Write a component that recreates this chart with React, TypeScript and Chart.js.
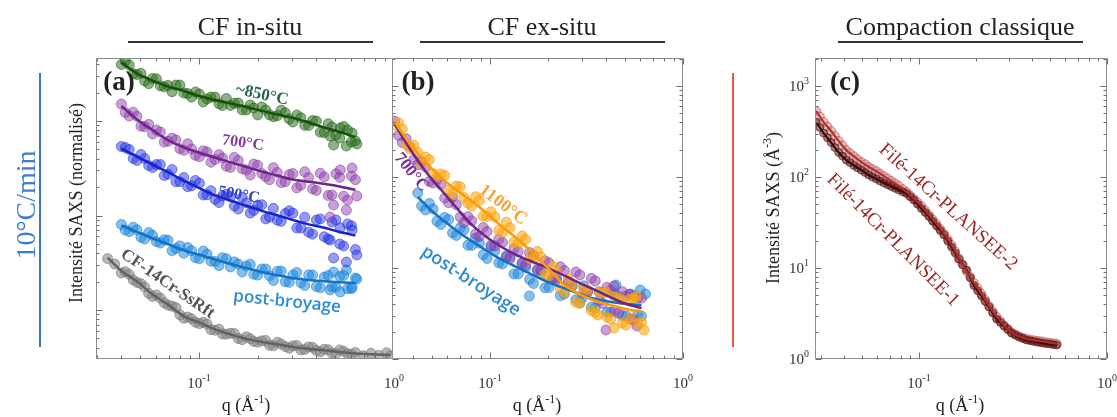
import React, { useEffect, useRef } from "react";
import { Chart, registerables } from "chart.js";
Chart.register(...registerables);

const SERIF = "'Liberation Serif', 'DejaVu Serif', serif";
const SANS = "'Open Sans', 'Noto Sans', sans-serif";

// ---------------- Panel (a) : CF in-situ ----------------
const qA = [0.0400, 0.0439, 0.0481, 0.0527, 0.0578, 0.0634, 0.0695, 0.0762, 0.0836, 0.0916, 0.1005, 0.110, 0.121, 0.132, 0.145, 0.159, 0.175, 0.191, 0.210, 0.230, 0.252, 0.277, 0.303, 0.333, 0.365, 0.400, 0.439, 0.481, 0.527, 0.578, 0.634];
const qAMid = [0.0419, 0.0460, 0.0504, 0.0552, 0.0605, 0.0664, 0.0728, 0.0798, 0.0875, 0.0959, 0.1052, 0.1152, 0.1267, 0.1382, 0.1518, 0.1665, 0.1832, 0.2000, 0.2199, 0.2408, 0.2639, 0.2900, 0.3173, 0.3487, 0.3822, 0.4188, 0.4597, 0.5037, 0.5518, 0.6052];
const qAFit = [0.0400, 0.0481, 0.0578, 0.0695, 0.0836, 0.1005, 0.121, 0.145, 0.175, 0.210, 0.252, 0.303, 0.365, 0.439, 0.527, 0.634];
const qATail = [0.470, 0.490, 0.530, 0.570, 0.610, 0.645];

const green850 = [3960, 3910, 3100, 2650, 2820, 2350, 2380, 2400, 1980, 1790, 1930, 1710, 1790, 1460, 1460, 1550, 1308, 1370, 1410, 1160, 1140, 1220, 976, 1080, 896, 1000, 756, 863, 661, 803, 615];
const green850Mid = [4290, 3160, 3200, 2480, 2800, 2300, 2040, 2400, 1950, 2030, 1590, 1790, 1520, 1730, 1540, 1310, 1480, 1160, 1310, 1110, 1300, 1050, 1160, 900, 1010, 760, 935, 711, 874, 600];
const green850Tail = [694, 557, 843, 544, 747, 571];
const green850Fit = [4160, 3180, 2680, 2320, 2080, 1840, 1668, 1530, 1410, 1280, 1170, 1080, 965, 853, 765, 677];

const purple700 = [1510, 1130, 1120, 870, 729, 765, 610, 630, 490, 505, 419, 469, 392, 406, 323, 382, 303, 350, 278, 239, 285, 228, 278, 209, 252, 184, 256, 165, 253, 146, 239];
const purple700Mid = [1230, 1240, 883, 921, 803, 598, 659, 509, 575, 433, 483, 366, 440, 332, 412, 312, 268, 340, 258, 321, 223, 271, 196, 290, 191, 280, 163, 277, 160, 262];
const purple700Tail = [96.2, 129, 303, 114, 318, 161];
const purple700Fit = [1440, 1040, 803, 626, 527, 462, 411, 365, 326, 292, 265, 240, 228, 216, 203, 187];

const blue500 = [537, 499, 382, 401, 322, 346, 273, 228, 252, 206, 220, 166, 148, 161, 158, 117, 136, 113, 130, 96.2, 89.2, 105, 106, 73.7, 66.4, 89.6, 59.5, 85.3, 49.9, 81.3, 43.6];
const blue500Mid = [524, 401, 442, 338, 346, 265, 307, 228, 202, 235, 165, 183, 137, 168, 126, 156, 106, 128, 92.1, 119, 86.7, 112, 73.7, 95.8, 63.5, 92.0, 56.5, 89.6, 47.5, 77.9];
const blue500Tail = [55.0, 35.5, 73.7, 32.2, 70.2, 38.2];
const blue500Fit = [511, 421, 346, 287, 234, 195, 163, 144, 127, 112, 100.5, 89.6, 80.6, 74.1, 66.8, 61.5];

const postA = [80.5, 67.5, 70.5, 56.4, 61.9, 51.1, 54.7, 44.8, 39.8, 42.4, 34.8, 39.0, 32.6, 35.8, 28.6, 30.6, 29.2, 23.9, 27.2, 23.0, 25.7, 19.9, 23.5, 19.4, 23.5, 17.7, 22.3, 17.6, 22.8, 16.8, 21.8];
const postAMid = [70.2, 75.2, 58.7, 65.9, 52.9, 55.5, 42.3, 47.7, 45.8, 35.7, 42.1, 32.8, 29.5, 34.8, 32.3, 25.3, 30.5, 23.4, 27.2, 20.5, 25.8, 19.6, 25.0, 18.2, 23.4, 17.2, 23.2, 17.5, 23.2, 16.8];
const postATail = [16.3, 25.2, 15.5, 26.5, 17.5, 21.3];
const postAFit = [78.5, 67.2, 57.4, 49.7, 42.8, 38.4, 34.2, 30.7, 27.8, 25.2, 23.3, 21.8, 20.8, 20.2, 19.7, 19.3];

const qGrey = [0.034, 0.037, 0.0400, 0.0439, 0.0481, 0.0527, 0.0578, 0.0634, 0.0695, 0.0762, 0.0836, 0.0916, 0.1005, 0.110, 0.121, 0.132, 0.145, 0.159, 0.175, 0.191, 0.210, 0.230, 0.252, 0.277, 0.303, 0.333, 0.365, 0.400, 0.439, 0.481, 0.527, 0.578, 0.634, 0.695, 0.762, 0.836, 0.916, 0.960];
const greyRef = [35.0, 30.6, 24.7, 23.8, 19.6, 17.5, 13.9, 13.3, 11.2, 10.6, 8.17, 8.08, 7.18, 7.11, 6.10, 5.57, 5.66, 5.00, 5.20, 4.64, 4.72, 4.24, 4.56, 4.10, 4.17, 3.78, 4.07, 3.73, 3.84, 3.49, 3.78, 3.44, 3.55, 3.27, 3.49, 3.31, 3.53, 3.26];
const greyRefMid = [25.4, 20.8, 19.0, 15.0, 14.4, 11.9, 11.0, 8.89, 8.43, 7.43, 7.40, 6.19, 6.25, 5.55, 5.65, 4.85, 4.97, 4.56, 4.76, 4.18, 4.37, 3.94, 4.21, 3.83, 4.03, 3.60, 3.80, 3.46, 3.66, 3.41];
const qGreyFit = [0.034, 0.040, 0.0481, 0.0578, 0.0695, 0.0836, 0.1005, 0.121, 0.145, 0.175, 0.210, 0.252, 0.303, 0.365, 0.439, 0.527, 0.634, 0.762, 0.960];
const greyFit = [35.8, 25.9, 20.1, 14.6, 11.4, 8.59, 7.36, 6.24, 5.52, 4.95, 4.60, 4.33, 4.07, 3.88, 3.74, 3.60, 3.46, 3.41, 3.34];

// ---------------- Panel (b) : CF ex-situ ----------------
const qB = [0.0320, 0.0351, 0.0385, 0.0422, 0.0463, 0.0507, 0.0556, 0.0610, 0.0669, 0.0733, 0.0804, 0.0881, 0.0966, 0.106, 0.116, 0.127, 0.140, 0.153, 0.168, 0.184, 0.202, 0.221, 0.243, 0.266, 0.292, 0.320, 0.351, 0.385, 0.422, 0.463, 0.507, 0.556, 0.610];
const qBMid = [0.0335, 0.0368, 0.0403, 0.0442, 0.0485, 0.0531, 0.0582, 0.0639, 0.0701, 0.0768, 0.0842, 0.0922, 0.1012, 0.1110, 0.1215, 0.1330, 0.1466, 0.1602, 0.1759, 0.1927, 0.2115, 0.2314, 0.2544, 0.2785, 0.3058, 0.3351, 0.3675, 0.4031, 0.4419, 0.4848, 0.5309, 0.5822];
const qBFit = [0.0320, 0.0385, 0.0463, 0.0556, 0.0669, 0.0804, 0.0966, 0.116, 0.140, 0.168, 0.202, 0.243, 0.292, 0.351, 0.422, 0.507, 0.610];

const orange1100 = [373, 336, 203, 186, 166, 109, 108, 71.9, 79.7, 59.5, 48.0, 55.2, 36.8, 36.3, 24.3, 27.6, 18.6, 20.6, 12.5, 13.2, 8.17, 9.27, 5.31, 6.50, 4.07, 5.73, 3.23, 5.31, 2.75, 4.68, 2.36, 4.62, 2.55];
const orange1100Mid = [397, 228, 224, 142, 155, 99.2, 104, 65.0, 78.2, 51.4, 60.7, 37.2, 41.5, 25.9, 32.0, 19.2, 22.5, 12.7, 15.2, 8.59, 10.5, 5.88, 7.67, 4.21, 5.99, 3.42, 5.47, 2.90, 4.80, 2.48, 4.59, 2.47];
const qOrangeTail = [0.362, 0.399, 0.439, 0.483, 0.531, 0.577, 0.628];
const orange1100Tail = [3.05, 5.45, 2.19, 4.45, 2.82, 4.92, 2.08];
const orange1100Fit = [402, 231, 146, 99.9, 71.9, 54.5, 39.7, 28.2, 20.6, 14.3, 9.75, 6.50, 5.12, 4.37, 3.92, 3.54, 3.28];

const purpleB700 = [412, 239, 214, 136, 129, 85.9, 82.8, 52.2, 49.7, 31.6, 33.1, 22.2, 25.2, 17.5, 19.1, 12.6, 15.1, 10.8, 13.9, 9.56, 11.4, 7.38, 9.37, 6.34, 8.38, 5.38, 7.20, 4.08, 5.67, 3.19, 4.92, 2.68, 4.68];
const purpleB700Mid = [287, 263, 156, 148, 89.3, 93.3, 58.6, 60.0, 36.3, 36.7, 23.6, 27.9, 17.8, 20.7, 13.3, 16.3, 11.2, 14.8, 9.42, 12.0, 7.70, 10.3, 6.79, 9.04, 5.35, 7.71, 4.37, 6.12, 3.34, 5.50, 2.75, 4.68];
const qPurpleBTail = [0.399, 0.439, 0.531, 0.577];
const purpleB700Tail = [2.08, 6.34, 5.18, 2.30];
const purpleB700Fit = [383, 203, 116, 72.8, 46.1, 29.9, 21.6, 16.8, 13.6, 11.6, 9.85, 8.25, 6.84, 5.73, 4.75, 4.02, 3.63];

const qPostB = [0.0422, 0.0463, 0.0507, 0.0556, 0.0610, 0.0669, 0.0733, 0.0804, 0.0881, 0.0966, 0.106, 0.116, 0.127, 0.140, 0.153, 0.168, 0.184, 0.202, 0.221, 0.243, 0.266, 0.292, 0.320, 0.351, 0.385, 0.422, 0.463, 0.507, 0.556, 0.610];
const postB = [66.7, 43.4, 44.5, 30.1, 34.1, 22.8, 26.2, 17.7, 18.8, 12.7, 15.4, 11.1, 13.2, 8.59, 10.1, 6.75, 8.82, 6.10, 7.67, 5.18, 6.34, 4.18, 5.59, 3.63, 5.38, 3.28, 4.92, 2.97, 4.98, 2.97];
const qPostBMid = [0.0442, 0.0485, 0.0531, 0.0582, 0.0639, 0.0701, 0.0768, 0.0842, 0.0922, 0.1012, 0.1110, 0.1215, 0.1330, 0.1466, 0.1602, 0.1759, 0.1927, 0.2115, 0.2314, 0.2544, 0.2785, 0.3058, 0.3351, 0.3675, 0.4031, 0.4419, 0.4848, 0.5309, 0.5822];
const postBMid = [48.0, 51.1, 32.7, 35.9, 24.3, 27.7, 17.8, 21.2, 14.0, 17.1, 11.4, 13.6, 8.59, 11.4, 7.48, 9.69, 6.07, 7.76, 4.95, 7.11, 4.48, 6.38, 3.73, 5.48, 3.26, 5.25, 3.01, 5.15, 3.07];
const qPostBExtra = [0.16, 0.30, 0.45, 0.60, 0.64];
const postBExtra = [4.92, 4.68, 6.50, 5.73, 5.18];
const qPostBFit = [0.0422, 0.0507, 0.0610, 0.0733, 0.0881, 0.106, 0.127, 0.153, 0.184, 0.221, 0.266, 0.320, 0.385, 0.463, 0.556, 0.610];
const postBFit = [60.3, 41.3, 30.1, 22.5, 17.5, 13.6, 11.1, 9.16, 7.57, 6.42, 5.59, 4.80, 4.39, 4.12, 3.97, 3.92];

// ---------------- Panel (c) : Compaction classique ----------------
const qC = [0.0284, 0.0311, 0.0341, 0.0374, 0.0410, 0.0450, 0.0494, 0.0541, 0.0593, 0.0651, 0.0713, 0.0782, 0.0858, 0.0940, 0.103, 0.113, 0.124, 0.136, 0.149, 0.163, 0.179, 0.196, 0.215, 0.236, 0.259, 0.284, 0.311, 0.341, 0.374, 0.410, 0.450, 0.494, 0.541];
const qCMid = [0.0297, 0.0326, 0.0357, 0.0392, 0.0429, 0.0471, 0.0517, 0.0566, 0.0621, 0.0682, 0.0747, 0.0819, 0.0898, 0.0984, 0.1079, 0.1183, 0.1298, 0.1424, 0.1560, 0.1707, 0.1874, 0.2052, 0.2251, 0.2471, 0.2712, 0.2974, 0.3256, 0.3571, 0.3916, 0.4293, 0.4712, 0.5173];
const plansee2 = [531, 402, 320, 249, 198, 169, 146, 129, 116, 102, 90.4, 79.7, 68.4, 57.3, 48.0, 38.2, 30.5, 23.7, 17.9, 12.8, 9.27, 6.84, 5.18, 3.82, 2.90, 2.33, 1.95, 1.77, 1.66, 1.60, 1.56, 1.51, 1.47];
const plansee2Mid = [462, 359, 282, 222, 183, 157, 138, 122, 109, 96.3, 84.9, 73.7, 62.6, 52.5, 42.8, 34.1, 26.9, 20.6, 15.2, 10.9, 7.97, 5.95, 4.45, 3.32, 2.60, 2.13, 1.86, 1.71, 1.63, 1.58, 1.53, 1.49];
const plansee1 = [402, 304, 239, 186, 154, 134, 119, 105, 95.1, 85.9, 78.7, 71.9, 65.9, 55.9, 45.1, 36.8, 29.0, 23.1, 17.0, 12.5, 9.51, 6.42, 4.92, 3.73, 2.75, 2.30, 1.93, 1.745, 1.617, 1.557, 1.499, 1.462, 1.425];
const plansee1Mid = [350, 270, 211, 170, 144, 126, 112, 99.9, 90.4, 82.2, 75.1, 68.8, 60.7, 50.1, 40.8, 32.7, 25.9, 19.8, 14.6, 10.9, 7.82, 5.62, 4.29, 3.21, 2.52, 2.11, 1.84, 1.68, 1.59, 1.53, 1.48, 1.44];

// tick labels (decades)
const xTickLabels = [0.1, 1];
const yTickLabelsC = [1, 10, 100, 1000];

// ---------------- helpers ----------------
const pts = (qs: number[], vs: number[]) => qs.map((q, i) => ({ x: q, y: vs[i] }));
const merge = (...sets: any[][]) => ([] as any[]).concat(...sets).sort((a, b) => a.x - b.x);

const scatterDs = (data: any[], fill: string, stroke: string, order: number, r = 5) => ({
  data, showLine: false, pointRadius: r, pointHoverRadius: r,
  pointBackgroundColor: fill, pointBorderColor: stroke, pointBorderWidth: 1, order,
});
const lineDs = (data: any[], color: string, width: number, order: number) => ({
  data, showLine: true, pointRadius: 0, pointHoverRadius: 0, borderColor: color,
  borderWidth: width, cubicInterpolationMode: "monotone", fill: false, order,
});

type Ann = { text: string; x: number; y: number; rot: number; color: string; font: string };
type Spec = {
  left: number; width: number;
  padding: { left: number; right: number; top: number; bottom: number };
  xMin: number; xMax: number; yMin: number; yMax: number;
  xLabels: number[]; yLabels: number[];
  sides: { top: boolean; right: boolean; bottom: boolean; left: boolean };
  yTitle?: { parts: [string, boolean][]; cx: number; cy: number };
  xTitleCx: number;
  anns: Ann[];
  datasets: any[];
};

function expText(v: number) {
  const e = Math.round(Math.log10(v));
  return e < 0 ? "-" + Math.abs(e) : String(e);
}

function drawPow(ctx: CanvasRenderingContext2D, x: number, y: number, v: number, size: number, align: string) {
  const es = Math.round(size * 0.68);
  ctx.font = `${size}px ${SERIF}`;
  const w1 = ctx.measureText("10").width;
  ctx.font = `${es}px ${SERIF}`;
  const ex = expText(v);
  const w2 = ctx.measureText(ex).width;
  const total = w1 + w2;
  const x0 = align === "center" ? x - total / 2 : align === "right" ? x - total : x;
  ctx.textAlign = "left";
  ctx.textBaseline = "alphabetic";
  ctx.font = `${size}px ${SERIF}`;
  ctx.fillText("10", x0, y);
  ctx.font = `${es}px ${SERIF}`;
  ctx.fillText(ex, x0 + w1, y - size * 0.45);
}

function drawRich(ctx: CanvasRenderingContext2D, parts: [string, boolean][], x: number, y: number, size: number) {
  const sup = Math.round(size * 0.68);
  let total = 0;
  const ws = parts.map(([t, s]) => {
    ctx.font = `${s ? sup : size}px ${SERIF}`;
    const w = ctx.measureText(t).width;
    total += w;
    return w;
  });
  let cx = x - total / 2;
  ctx.textAlign = "left";
  ctx.textBaseline = "alphabetic";
  parts.forEach(([t, s], i) => {
    ctx.font = `${s ? sup : size}px ${SERIF}`;
    ctx.fillText(t, cx, s ? y - size * 0.42 : y);
    cx += ws[i];
  });
}

function logTicks(min: number, max: number) {
  const out: { v: number; major: boolean }[] = [];
  for (let d = Math.floor(Math.log10(min)); d <= Math.ceil(Math.log10(max)); d++) {
    for (let k = 1; k <= 9; k++) {
      const v = k * Math.pow(10, d);
      if (v >= min * 0.999 && v <= max * 1.001) out.push({ v, major: k === 1 });
    }
  }
  return out;
}

function makePlugin(spec: Spec) {
  return {
    id: "frame",
    afterDatasetsDraw(chart: any) {
      const ctx: CanvasRenderingContext2D = chart.ctx;
      const ca = chart.chartArea;
      const xs = chart.scales.x;
      const ys = chart.scales.y;
      const L = Math.round(ca.left) + 0.5, R = Math.round(ca.right) - 0.5;
      const T = Math.round(ca.top) + 0.5, B = Math.round(ca.bottom) - 0.5;
      ctx.save();
      ctx.strokeStyle = "#8d8d8d";
      ctx.lineWidth = 1;
      ctx.beginPath();
      ctx.moveTo(L, T); ctx.lineTo(R, T);
      if (spec.sides.right) { ctx.lineTo(R, B); } else { ctx.moveTo(R, B); }
      ctx.lineTo(L, B); ctx.lineTo(L, T);
      ctx.stroke();
      ctx.strokeStyle = "#6e6e6e";
      ctx.beginPath();
      logTicks(spec.xMin, spec.xMax).forEach((t) => {
        const p = Math.round(xs.getPixelForValue(t.v)) + 0.5;
        const len = t.major ? 6 : 3;
        if (spec.sides.bottom) { ctx.moveTo(p, B); ctx.lineTo(p, B - len); }
        if (spec.sides.top) { ctx.moveTo(p, T); ctx.lineTo(p, T + len); }
      });
      logTicks(spec.yMin, spec.yMax).forEach((t) => {
        const p = Math.round(ys.getPixelForValue(t.v)) + 0.5;
        const len = t.major ? 6 : 3;
        if (spec.sides.left) { ctx.moveTo(L, p); ctx.lineTo(L + len, p); }
        if (spec.sides.right) { ctx.moveTo(R, p); ctx.lineTo(R - len, p); }
      });
      ctx.stroke();
      ctx.fillStyle = "#333";
      spec.xLabels.forEach((v) => drawPow(ctx, xs.getPixelForValue(v), ca.bottom + 29, v, 15, "center"));
      spec.yLabels.forEach((v) => drawPow(ctx, ca.left - 6, ys.getPixelForValue(v) + 5, v, 15, "right"));
      ctx.fillStyle = "#222";
      drawRich(ctx, [["q (Å", false], ["-1", true], [")", false]], spec.xTitleCx - spec.left, 411, 18);
      if (spec.yTitle) {
        ctx.save();
        ctx.translate(spec.yTitle.cx - spec.left, spec.yTitle.cy);
        ctx.rotate(-Math.PI / 2);
        drawRich(ctx, spec.yTitle.parts, 0, 6, 18);
        ctx.restore();
      }
      spec.anns.forEach((a) => {
        ctx.save();
        ctx.translate(xs.getPixelForValue(a.x), ys.getPixelForValue(a.y));
        ctx.rotate((a.rot * Math.PI) / 180);
        ctx.font = a.font;
        ctx.fillStyle = a.color;
        ctx.textAlign = "center";
        ctx.textBaseline = "middle";
        ctx.fillText(a.text, 0, 0);
        ctx.restore();
      });
      ctx.restore();
    },
  };
}

function buildConfig(spec: Spec): any {
  return {
    type: "scatter",
    data: { datasets: spec.datasets },
    options: {
      animation: false,
      responsive: false,
      devicePixelRatio: 1,
      events: [],
      layout: { autoPadding: false, padding: spec.padding },
      plugins: { legend: { display: false }, tooltip: { enabled: false }, title: { display: false } },
      scales: {
        x: { type: "logarithmic", min: spec.xMin, max: spec.xMax, display: false },
        y: { type: "logarithmic", min: spec.yMin, max: spec.yMax, display: false },
      },
    },
    plugins: [makePlugin(spec)],
  };
}

const GREEN_P = "rgba(45,115,30,0.55)", GREEN_E = "rgba(30,90,20,0.55)", GREEN_L = "#17500c";
const PURP_P = "rgba(145,65,175,0.5)", PURP_E = "rgba(120,50,150,0.5)", PURP_L = "#6e248a";
const BLUE_P = "rgba(40,55,235,0.5)", BLUE_E = "rgba(30,40,200,0.5)", BLUE_L = "#1820d0";
const LBLUE_P = "rgba(30,140,222,0.55)", LBLUE_E = "rgba(20,110,200,0.5)", LBLUE_L = "#1272c6";
const GREY_P = "rgba(135,135,135,0.6)", GREY_E = "rgba(110,110,110,0.55)", GREY_L = "#626262";
const ORANGE_P = "rgba(255,168,20,0.6)", ORANGE_E = "rgba(240,150,10,0.6)", ORANGE_L = "#ff9a00";

const specA: Spec = {
  left: 0, width: 420,
  padding: { left: 96, right: 28, top: 58, bottom: 58 },
  xMin: 0.02965, xMax: 0.9766, yMin: 3.03, yMax: 4643,
  xLabels: xTickLabels, yLabels: [],
  sides: { top: true, right: false, bottom: true, left: true },
  yTitle: { parts: [["Intensité SAXS (normalisé)", false]], cx: 76, cy: 203 },
  xTitleCx: 246,
  anns: [
    { text: "(a)", x: 0.0389, y: 2520, rot: 0, color: "#222", font: `bold 27px ${SERIF}` },
    { text: "~850°C", x: 0.2105, y: 1884, rot: 12, color: "#24684a", font: `bold 17px ${SERIF}` },
    { text: "700°C", x: 0.168, y: 585, rot: 8, color: "#8a3a9e", font: `bold 16px ${SERIF}` },
    { text: "500°C", x: 0.1604, y: 165, rot: 10, color: "#2b3fcf", font: `bold 16px ${SERIF}` },
    { text: "post-broyage", x: 0.2828, y: 12.2, rot: 6, color: "#2a8ad6", font: `600 17px ${SANS}` },
    { text: "CF-14Cr-SsRft", x: 0.069, y: 18.9, rot: 34.5, color: "#555", font: `bold 17px ${SERIF}` },
  ],
  datasets: [
    lineDs(pts(qAFit, green850Fit), GREEN_L, 2.5, 0),
    lineDs(pts(qAFit, purple700Fit), PURP_L, 2.5, 1),
    lineDs(pts(qAFit, blue500Fit), BLUE_L, 2.5, 2),
    lineDs(pts(qAFit, postAFit), LBLUE_L, 2.5, 3),
    lineDs(pts(qGreyFit, greyFit), GREY_L, 2.5, 4),
    scatterDs(merge(pts(qA, green850), pts(qAMid, green850Mid), pts(qATail, green850Tail)), GREEN_P, GREEN_E, 10),
    scatterDs(merge(pts(qA, purple700), pts(qAMid, purple700Mid), pts(qATail, purple700Tail)), PURP_P, PURP_E, 11),
    scatterDs(merge(pts(qA, blue500), pts(qAMid, blue500Mid), pts(qATail, blue500Tail)), BLUE_P, BLUE_E, 12),
    scatterDs(merge(pts(qA, postA), pts(qAMid, postAMid), pts(qATail, postATail)), LBLUE_P, LBLUE_E, 13),
    scatterDs(merge(pts(qGrey, greyRef), pts(qAMid, greyRefMid)), GREY_P, GREY_E, 14),
  ],
};

const specB: Spec = {
  left: 380, width: 330,
  padding: { left: 12, right: 27, top: 58, bottom: 58 },
  xMin: 0.03105, xMax: 1, yMin: 1, yMax: 2032,
  xLabels: xTickLabels, yLabels: [],
  sides: { top: true, right: true, bottom: true, left: true },
  xTitleCx: 537,
  anns: [
    { text: "(b)", x: 0.0423, y: 1079, rot: 0, color: "#222", font: `bold 27px ${SERIF}` },
    { text: "700°C", x: 0.039, y: 113, rot: 51, color: "#7a2e98", font: `bold 17px ${SERIF}` },
    { text: "1100°C", x: 0.1167, y: 49.2, rot: 37, color: "#f7a23a", font: `bold 18px ${SERIF}` },
    { text: "post-broyage", x: 0.0796, y: 7.2, rot: 33, color: "#2a8ad6", font: `600 18px ${SANS}` },
  ],
  datasets: [
    lineDs(pts(qBFit, orange1100Fit), ORANGE_L, 2.5, 0),
    lineDs(pts(qBFit, purpleB700Fit), PURP_L, 2.5, 1),
    lineDs(pts(qPostBFit, postBFit), LBLUE_L, 2.5, 2),
    scatterDs(merge(pts(qB, orange1100), pts(qBMid, orange1100Mid), pts(qOrangeTail, orange1100Tail)), ORANGE_P, ORANGE_E, 10),
    scatterDs(merge(pts(qB, purpleB700), pts(qBMid, purpleB700Mid), pts(qPurpleBTail, purpleB700Tail)), PURP_P, PURP_E, 11),
    scatterDs(merge(pts(qPostB, postB), pts(qPostBMid, postBMid), pts(qPostBExtra, postBExtra)), LBLUE_P, LBLUE_E, 12),
  ],
};

const specC: Spec = {
  left: 700, width: 417,
  padding: { left: 115, right: 10, top: 58, bottom: 58 },
  xMin: 0.02799, xMax: 1, yMin: 1, yMax: 2032,
  xLabels: xTickLabels, yLabels: yTickLabelsC,
  sides: { top: true, right: true, bottom: true, left: true },
  yTitle: { parts: [["Intensité SAXS (Å", false], ["-3", true], [")", false]], cx: 773, cy: 208 },
  xTitleCx: 960,
  anns: [
    { text: "(c)", x: 0.0404, y: 1079, rot: 0, color: "#222", font: `bold 27px ${SERIF}` },
    { text: "Filé-14Cr-PLANSEE-2", x: 0.1427, y: 46.8, rot: 42, color: "#9b2727", font: `19px ${SERIF}` },
    { text: "Filé-14Cr-PLANSEE-1", x: 0.0728, y: 20.3, rot: 45, color: "#9b2727", font: `19px ${SERIF}` },
  ],
  datasets: [
    lineDs(pts(qC, plansee2), "#b32a2a", 2, 0),
    lineDs(pts(qC, plansee1), "#3a0606", 2, 1),
    scatterDs(merge(pts(qC, plansee1), pts(qCMid, plansee1Mid)), "rgba(95,20,20,0.55)", "rgba(70,12,12,0.5)", 10, 4),
    scatterDs(merge(pts(qC, plansee2), pts(qCMid, plansee2Mid)), "rgba(212,140,140,0.55)", "rgba(175,70,70,0.55)", 11, 4.5),
  ],
};

const headerStyle = (cx: number): React.CSSProperties => ({
  position: "absolute", left: cx, top: 27, transform: "translate(-50%,-50%)",
  fontFamily: SERIF, fontSize: 26, color: "#222", whiteSpace: "nowrap", lineHeight: 1,
});
const ruleStyle = (x: number, w: number): React.CSSProperties => ({
  position: "absolute", left: x, top: 41, width: w, height: 2, background: "#333",
});

export default function App() {
  const refA = useRef<HTMLCanvasElement>(null);
  const refB = useRef<HTMLCanvasElement>(null);
  const refC = useRef<HTMLCanvasElement>(null);

  useEffect(() => {
    const charts = [
      new Chart(refA.current as HTMLCanvasElement, buildConfig(specA)),
      new Chart(refB.current as HTMLCanvasElement, buildConfig(specB)),
      new Chart(refC.current as HTMLCanvasElement, buildConfig(specC)),
    ];
    return () => charts.forEach((c) => c.destroy());
  }, []);

  const cv = (spec: Spec): React.CSSProperties => ({
    position: "absolute", left: spec.left, top: 0, width: spec.width, height: 417,
  });

  return (
    <div style={{ position: "absolute", left: 0, top: 0, width: 1117, height: 417, background: "#fff", overflow: "hidden" }}>
      <canvas ref={refA} width={specA.width} height={417} style={cv(specA)} />
      <canvas ref={refB} width={specB.width} height={417} style={cv(specB)} />
      <canvas ref={refC} width={specC.width} height={417} style={cv(specC)} />
      <div style={headerStyle(250)}>CF in-situ</div>
      <div style={ruleStyle(128, 245)} />
      <div style={headerStyle(542)}>CF ex-situ</div>
      <div style={ruleStyle(420, 245)} />
      <div style={headerStyle(960)}>Compaction classique</div>
      <div style={ruleStyle(838, 245)} />
      <div style={{ position: "absolute", left: 39, top: 73, width: 2, height: 274, background: "#3b78c4" }} />
      <div style={{ position: "absolute", left: 732, top: 73, width: 2, height: 274, background: "#ea5a3c" }} />
      <div
        style={{
          position: "absolute", left: 26, top: 205, transform: "translate(-50%,-50%) rotate(-90deg)",
          fontFamily: SERIF, fontSize: 28, color: "#3d7dcc", whiteSpace: "nowrap", lineHeight: 1,
        }}
      >
        10°C/min
      </div>
    </div>
  );
}
